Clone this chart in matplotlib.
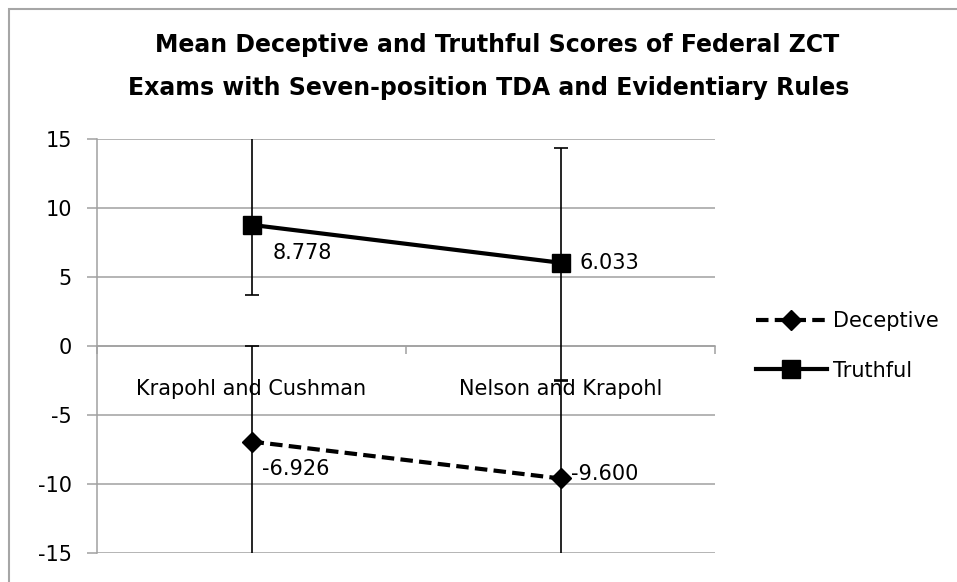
import matplotlib
matplotlib.use('Agg')
import matplotlib.pyplot as plt
from matplotlib.patches import Rectangle

categories = ['Krapohl and Cushman', 'Nelson and Krapohl']
deceptive = [-6.926, -9.600]
truthful = [8.778, 6.033]
# asymmetric error bar extents (lower, upper)
deceptive_err = [[9.0, 9.0], [6.9, 7.1]]
truthful_err = [[5.08, 8.5], [9.0, 8.3]]
value_labels_d = ['-6.926', '-9.600']
value_labels_t = ['8.778', '6.033']
yticks = [-15, -10, -5, 0, 5, 10, 15]

W, H = 957, 582
fig = plt.figure(figsize=(W / 100, H / 100), dpi=100)
plt.rcParams['font.family'] = 'DejaVu Sans'
fs = 15

# chart border
fig.patches.append(Rectangle((8.5 / W, -0.01), 1.0, (H - 8.5) / H + 0.01,
                             transform=fig.transFigure, fill=False,
                             edgecolor='#a6a6a6', linewidth=1.5))

ax = fig.add_axes([97 / W, (H - 553) / H, (715 - 97) / W, (553 - 139) / H])
grid_c = '#a0a0a0'
x = list(range(len(categories)))

ax.errorbar(x, truthful, yerr=truthful_err, fmt='none', ecolor='black',
            elinewidth=1.2, capsize=5, capthick=1.2, zorder=3)
ax.errorbar(x, deceptive, yerr=deceptive_err, fmt='none', ecolor='black',
            elinewidth=1.2, capsize=5, capthick=1.2, zorder=3)

ax.plot(x, deceptive, color='black', linestyle=(0, (3, 1.5)), linewidth=3,
        marker='D', markersize=10.5, label='Deceptive', zorder=4)
ax.plot(x, truthful, color='black', linestyle='-', linewidth=3,
        marker='s', markersize=13, label='Truthful', zorder=4)

ax.set_xlim(-0.5, 1.5)
ax.set_ylim(-15, 15)
ax.set_yticks(yticks)
ax.set_yticklabels([str(v) for v in yticks], fontsize=fs)
ax.yaxis.grid(True, color=grid_c, linewidth=1.1)
ax.set_axisbelow(True)

for s in ['top', 'right']:
    ax.spines[s].set_visible(False)
ax.spines['left'].set_color(grid_c)
ax.spines['left'].set_linewidth(1.1)
ax.spines['bottom'].set_position(('data', 0))
ax.spines['bottom'].set_color(grid_c)
ax.spines['bottom'].set_linewidth(1.1)
ax.tick_params(axis='y', colors=grid_c, labelcolor='black', length=7,
               width=1.1, pad=11)

ax.set_xticks(x)
ax.set_xticklabels(categories, fontsize=fs)
ax.set_xticks([-0.5, 0.5, 1.5], minor=True)
ax.tick_params(axis='x', which='major', length=0, pad=24)
ax.tick_params(axis='x', which='minor', length=6, width=1.1, colors=grid_c)

offsets_t = [(15, -20), (14, 0)]
offsets_d = [(7.5, -19.5), (7.5, 3)]
for xi, (v, t) in enumerate(zip(truthful, value_labels_t)):
    ax.annotate(t, (xi, v), xytext=offsets_t[xi], textcoords='offset points',
                ha='left', va='center', fontsize=fs)
for xi, (v, t) in enumerate(zip(deceptive, value_labels_d)):
    ax.annotate(t, (xi, v), xytext=offsets_d[xi], textcoords='offset points',
                ha='left', va='center', fontsize=fs)

fig.text(497 / W, 1 - 45 / H, 'Mean Deceptive and Truthful Scores of Federal ZCT',
         ha='center', va='center', fontsize=17, fontweight='bold')
fig.text(489 / W, 1 - 88 / H, 'Exams with Seven-position TDA and Evidentiary Rules',
         ha='center', va='center', fontsize=17, fontweight='bold')

fig.legend(loc='center left', bbox_to_anchor=(737 / W, 1 - 346 / H),
           frameon=False, fontsize=fs, handlelength=3.4, handletextpad=0.3,
           labelspacing=1.4)

fig.savefig('out.png', dpi=100)
